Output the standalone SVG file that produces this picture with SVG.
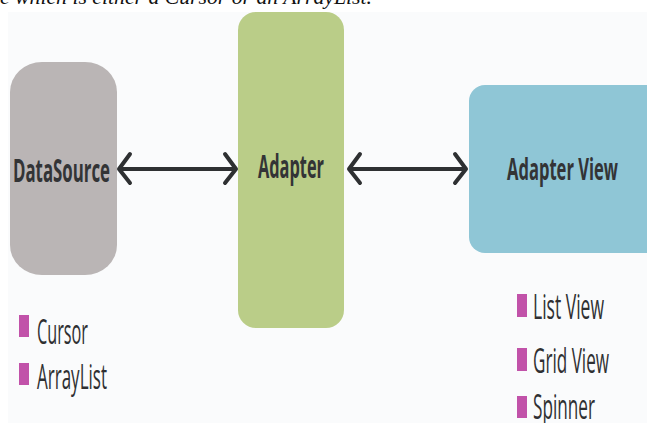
<svg xmlns="http://www.w3.org/2000/svg" width="647" height="423" viewBox="0 0 647 423">
<style>
.lbl{font-family:"Open Sans","Liberation Sans",sans-serif;font-weight:bold;fill:#333436;}
.item{font-family:"Open Sans","Liberation Sans",sans-serif;fill:#2f3032;}
.bul{fill:#c152a9;}
.conn{stroke:#2e3032;stroke-width:4;fill:none;stroke-linecap:round;stroke-linejoin:round;}
</style>
<rect x="0" y="0" width="647" height="423" fill="#ffffff"/>
<rect x="8" y="12" width="639" height="411" fill="#fafbfc"/>
<text x="0" y="4" font-family="Liberation Serif,serif" font-style="italic" font-size="22" fill="#111" textLength="372" lengthAdjust="spacingAndGlyphs">e which is either a Cursor or an ArrayList.</text>
<g id="datasource">
<rect x="10" y="62" width="107" height="213" rx="32" ry="30" fill="#bab5b5"/>
<text class="lbl" x="13" y="182" font-size="33" textLength="97" lengthAdjust="spacingAndGlyphs">DataSource</text>
</g>
<g id="adapter">
<rect x="238" y="12" width="106" height="316" rx="18" ry="18" fill="#bacd88"/>
<text class="lbl" x="258" y="178" font-size="32" textLength="66" lengthAdjust="spacingAndGlyphs">Adapter</text>
</g>
<g id="adapterview">
<rect x="469" y="85" width="200" height="168" rx="16" ry="16" fill="#8fc6d6"/>
<text class="lbl" x="507" y="180" font-size="31" textLength="111" lengthAdjust="spacingAndGlyphs">Adapter View</text>
</g>
<g id="datasource-items">
<rect class="bul" x="19" y="315" width="10" height="22"/>
<text class="item" x="37" y="344" font-size="34" textLength="51" lengthAdjust="spacingAndGlyphs">Cursor</text>
<rect class="bul" x="19" y="363" width="10" height="22"/>
<text class="item" x="37" y="389" font-size="34" textLength="70" lengthAdjust="spacingAndGlyphs">ArrayList</text>
</g>
<g id="adapterview-items">
<rect class="bul" x="517" y="294" width="10" height="23"/>
<text class="item" x="533" y="319" font-size="34" textLength="71" lengthAdjust="spacingAndGlyphs">List View</text>
<rect class="bul" x="517" y="348" width="10" height="23"/>
<text class="item" x="533" y="373" font-size="34" textLength="76" lengthAdjust="spacingAndGlyphs">Grid View</text>
<rect class="bul" x="517" y="396" width="10" height="22"/>
<text class="item" x="533" y="419" font-size="34" textLength="62" lengthAdjust="spacingAndGlyphs">Spinner</text>
</g>
<g id="connectors">
<path class="conn" d="M120 169H235M130 154L119 169L130 183M225 154L236 169L225 183"/>
<path class="conn" d="M350 169H465M360 154L349 169L360 183M455 154L466 169L455 183"/>
</g>
</svg>
